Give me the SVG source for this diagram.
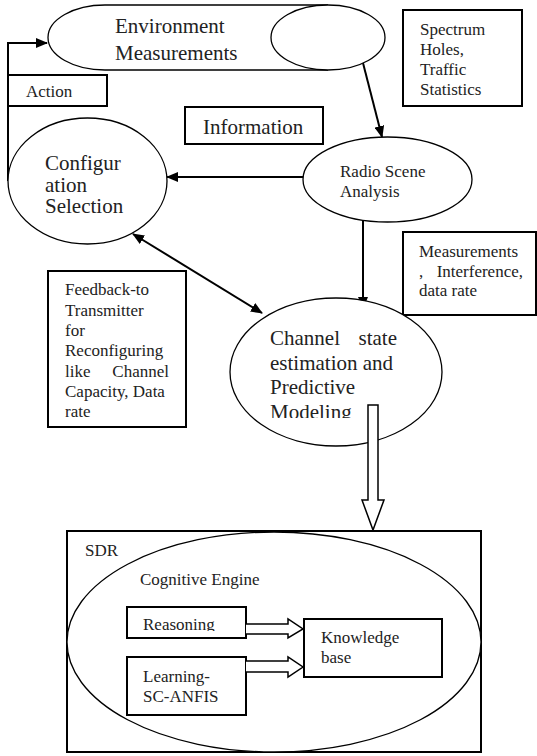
<svg xmlns="http://www.w3.org/2000/svg" width="537" height="756" viewBox="0 0 537 756">
<style>
.sh{fill:#fff;stroke:#000;stroke-width:1.3}
.bx{fill:#fff;stroke:#000;stroke-width:2}
.ln{fill:none;stroke:#000;stroke-width:2}
.hol{fill:#fff;stroke:#000;stroke-width:1.5;stroke-linejoin:miter}
.big{font-size:21px;fill:#222}
.sm{font-size:17px;fill:#222}
</style>
<defs>
<marker id="ah" markerWidth="12" markerHeight="10" refX="11" refY="5" orient="auto-start-reverse" markerUnits="userSpaceOnUse">
<path d="M0,0 L12,5 L0,10 Z" fill="#000"/>
</marker>
<clipPath id="clipModel"><rect x="250" y="300" width="200" height="118"/></clipPath>
<clipPath id="clipReason"><rect x="127" y="607" width="119" height="24"/></clipPath>
</defs>
<rect width="537" height="756" fill="#fff"/>

<g id="connectors">
<polyline class="ln" points="8,181 8,43 47,43" marker-end="url(#ah)"/>
<line class="ln" x1="363" y1="63" x2="382" y2="137" marker-end="url(#ah)"/>
<line class="ln" x1="303" y1="177" x2="167" y2="177" marker-end="url(#ah)"/>
<line class="ln" x1="363" y1="221" x2="363" y2="308" marker-end="url(#ah)"/>
<line class="ln" x1="133" y1="234" x2="262" y2="313" marker-start="url(#ah)" marker-end="url(#ah)"/>
</g>

<g font-family="Liberation Serif, Times New Roman, DejaVu Serif, serif">
<g id="env-measurements">
<path class="sh" d="M328,5 L105,5 A57,32.5 0 0 0 105,70 L328,70"/>
<ellipse class="sh" cx="328" cy="37.5" rx="57" ry="32.5"/>
<text class="big" x="115" y="33">Environment</text>
<text class="big" x="115" y="60">Measurements</text>
</g>

<g id="action">
<rect class="bx" x="8" y="75" width="99" height="31"/>
<text class="sm" x="26" y="97">Action</text>
</g>

<g id="information">
<rect class="bx" x="185" y="107" width="138" height="37"/>
<text class="big" x="203" y="134">Information</text>
</g>

<g id="spectrum">
<rect class="bx" x="403" y="10" width="119" height="96" stroke-width="2.5"/>
<text class="sm" x="420" y="35">Spectrum</text>
<text class="sm" x="420" y="55">Holes,</text>
<text class="sm" x="420" y="75">Traffic</text>
<text class="sm" x="420" y="95">Statistics</text>
</g>

<g id="config-selection">
<ellipse class="sh" cx="87.5" cy="181" rx="79.5" ry="63"/>
<text class="big" x="45" y="170">Configur</text>
<text class="big" x="45" y="191.5">ation</text>
<text class="big" x="45" y="213">Selection</text>
</g>

<g id="radio-scene">
<ellipse class="sh" cx="387.5" cy="179.5" rx="84.5" ry="42.5"/>
<text class="sm" x="340" y="177">Radio Scene</text>
<text class="sm" x="340" y="197">Analysis</text>
</g>

<g id="measurements">
<rect class="bx" x="403" y="232" width="133" height="83"/>
<text class="sm" x="419" y="257">Measurements</text>
<text class="sm" x="419" y="277">,</text>
<text class="sm" x="523" y="277" text-anchor="end">Interference,</text>
<text class="sm" x="419" y="296">data rate</text>
</g>

<g id="feedback">
<rect class="bx" x="48" y="271" width="138" height="156"/>
<text class="sm" x="65" y="295">Feedback-to</text>
<text class="sm" x="65" y="315.5">Transmitter</text>
<text class="sm" x="65" y="336">for</text>
<text class="sm" x="65" y="356">Reconfiguring</text>
<text class="sm" x="65" y="377">like</text>
<text class="sm" x="169" y="377" text-anchor="end">Channel</text>
<text class="sm" x="65" y="397">Capacity, Data</text>
<text class="sm" x="65" y="417">rate</text>
</g>

<g id="channel-state">
<ellipse class="sh" cx="336" cy="372" rx="106" ry="74"/>
<text class="big" x="270" y="345">Channel</text>
<text class="big" x="397" y="345" text-anchor="end">state</text>
<text class="big" x="270" y="369.5">estimation and</text>
<text class="big" x="270" y="394">Predictive</text>
<text class="big" x="270" y="419" clip-path="url(#clipModel)">Modeling</text>
</g>

<g id="hollow-down-arrow">
<path class="hol" d="M368,405 L378,405 L378,500 L384,500 L373,530 L362,500 L368,500 Z"/>
</g>

<g id="sdr">
<rect class="bx" x="67" y="531" width="414" height="221"/>
<ellipse class="sh" cx="274" cy="642" rx="207" ry="110"/>
<text class="sm" x="85" y="556">SDR</text>
<text class="sm" x="140" y="585">Cognitive Engine</text>
</g>

<g id="reasoning">
<rect class="bx" x="127" y="607" width="119" height="31"/>
<text class="sm" x="143" y="630" clip-path="url(#clipReason)">Reasoning</text>
</g>

<g id="learning">
<rect class="bx" x="127" y="657" width="119" height="58"/>
<text class="sm" x="143" y="682">Learning-</text>
<text class="sm" x="143" y="702">SC-ANFIS</text>
</g>

<g id="knowledge-base">
<rect class="bx" x="304" y="619" width="138" height="58"/>
<text class="sm" x="321" y="643">Knowledge</text>
<text class="sm" x="321" y="663">base</text>
</g>

<g id="hollow-arrows">
<path class="hol" d="M246,624 L288,624 L288,619 L303,629 L288,638 L288,634 L246,634"/>
<path class="hol" d="M246,661 L288,661 L288,657 L303,667 L288,677 L288,672 L246,672"/>
</g>
</g>
</svg>
